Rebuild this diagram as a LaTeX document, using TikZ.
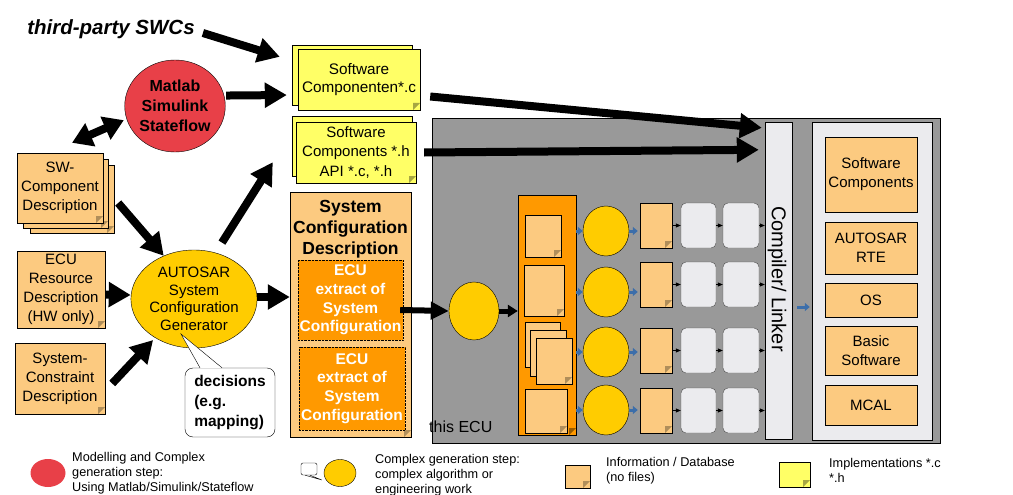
\documentclass[tikz,border=0pt]{standalone}
\usepackage{fontspec}
\setmainfont{Liberation Sans}
\usetikzlibrary{shapes,arrows.meta,positioning,calc}
\usepackage{xcolor}
\definecolor{infoorange}{RGB}{252,202,128}
\definecolor{extractorange}{RGB}{255,153,0}
\definecolor{implyellow}{RGB}{255,255,102}
\definecolor{stepyellow}{RGB}{255,204,0}
\definecolor{matlabred}{RGB}{232,64,72}
\definecolor{ecugray}{RGB}{153,153,153}
\definecolor{panelgray}{RGB}{235,235,238}
\definecolor{flowblue}{RGB}{60,110,170}

\tikzset{
  fold/.style={path picture={\fill[#1] ([xshift=-7pt]path picture bounding box.south east) -- ([yshift=7pt]path picture bounding box.south east) -- ([shift={(-7pt,7pt)}]path picture bounding box.south east) -- cycle;}},
  info/.style={draw, fill=infoorange, align=center, fold=infoorange!70!black},
  impl/.style={draw, fill=implyellow, align=center, fold=implyellow!65!black},
  genstep/.style={ellipse, draw, fill=stepyellow, align=center},
  extract/.style={draw, densely dotted, fill=extractorange, text=white, align=center, font=\bfseries\fontsize{15.5}{18.7}\selectfont},
  swlayer/.style={draw, fill=infoorange, align=center, minimum width=92pt},
  tool/.style={draw=black!70, fill=panelgray, rounded corners=5pt},
  bigarrow/.style={line width=8pt, -{Triangle[length=22pt,width=24pt]}},
  flowarrow/.style={flowblue, line width=3pt, -{Triangle[length=5pt,width=8pt]}},
  thinarrow/.style={line width=0.6pt, -{Triangle[length=5pt,width=4pt]}},
  legendtext/.style={anchor=west, align=left, font=\fontsize{12.7}{15}\selectfont},
}

\begin{document}
\begin{tikzpicture}[x=1pt, y=-1pt, every node/.style={font=\fontsize{15}{19}\selectfont, inner sep=0pt}]
    \useasboundingbox (0,0) rectangle (1013,495);

    % this ECU
    \node[draw, fill=ecugray, minimum width=508pt, minimum height=325pt] (ecu) at (686,280.5) {};
    \node[anchor=west, font=\fontsize{16}{18}\selectfont] (thisecu) at (429,427) {this ECU};

    % Compiler and ECU image
    \node[draw, fill=panelgray, minimum width=27pt, minimum height=317pt] (compiler) at (778.5,280.5) {};
    \node[rotate=-90, font=\fontsize{20}{22}\selectfont] (compilerlabel) at (777,279) {Compiler/ Linker};
    \node[draw, fill=panelgray, minimum width=120pt, minimum height=318pt] (image) at (872,281) {};
    \node[swlayer, minimum height=75pt] (swcomp) at (871,174.5) {Software\\Components};
    \node[swlayer, minimum height=52pt] (rte) at (871,248) {AUTOSAR\\RTE};
    \node[swlayer, minimum height=34pt] (os) at (871,300) {OS};
    \node[swlayer, minimum height=49pt] (bsw) at (871,350.5) {Basic\\Software};
    \node[swlayer, minimum height=40pt] (mcal) at (871,405) {MCAL};
    \draw[flowarrow, shorten <=5pt, shorten >=2pt] ([yshift=-26.5pt]compiler.east) -- ([yshift=-26pt]image.west);

    % ECU extract split
    \node[genstep, minimum width=50pt, minimum height=58pt] (ecustep) at (474,311) {};
    \node[draw, fill=extractorange, minimum width=58pt, minimum height=240pt, fold=extractorange!60!black] (extracts) at (547,315) {};
    \node[info, minimum width=36pt, minimum height=42pt] (noteA) at (543,236) {};
    \node[info, minimum width=40pt, minimum height=51pt] (noteB) at (544,290.5) {};
    \node[info, minimum width=35pt, minimum height=45pt] (noteC) at (542.5,344.5) {};
    \node[info, minimum width=36pt, minimum height=46pt] (noteD) at (548,353) {};
    \node[info, minimum width=36pt, minimum height=46pt] (noteE) at (554,361) {};
    \node[info, minimum width=42pt, minimum height=44pt] (noteF) at (546,411) {};

    % generation rows
    \foreach \cy/\ny [count=\i] in {231/225.5, 292/284.5, 352/350.5, 410/410.5} {
        \node[genstep, minimum width=46pt, minimum height=50pt] (circ\i) at (606,\cy) {};
        \node[info, minimum width=32pt, minimum height=45pt] (cfg\i) at (656,\ny) {};
        \node[tool, minimum width=35pt, minimum height=45pt] (code\i) at (698.5,\ny) {};
        \node[tool, minimum width=36pt, minimum height=45pt] (obj\i) at (741,\ny) {};
        \draw[flowarrow] (extracts.east |- circ\i.west) -- (circ\i.west);
        \draw[flowarrow, shorten >=2pt] (circ\i.east) -- (cfg\i.west |- circ\i.east);
        \draw[thinarrow] (cfg\i.east) -- (code\i.west);
        \draw[thinarrow] (code\i.east) -- (obj\i.west);
        \draw[thinarrow] (obj\i.east) -- (compiler.west |- obj\i.east);
    }

    % Implementations
    \node[impl, minimum width=120pt, minimum height=60pt] (swcCback) at (352,75) {};
    \node[impl, minimum width=122pt, minimum height=61pt, font=\fontsize{15.3}{18.5}\selectfont] (swcC) at (359,79.5) {Software\\Componenten*.c};
    \node[impl, minimum width=120pt, minimum height=60pt] (swcHback) at (352,146) {};
    \node[impl, minimum width=120pt, minimum height=61pt, font=\fontsize{15}{19.5}\selectfont] (swcH) at (356,152.5) {Software\\Components *.h\\API *.c, *.h};

    % System Configuration Description
    \node[info, minimum width=121pt, minimum height=245pt] (syscfg) at (350.5,314.5) {};
    \node[align=center, font=\bfseries\fontsize{17.5}{21}\selectfont] (syscfgtitle) at (350.5,229) {System\\Configuration\\Description};
    \node[extract, minimum width=105pt, minimum height=80pt] (extractA) at (350.5,300) {ECU\\extract of\\System\\Configuration};
    \node[extract, minimum width=106pt, minimum height=83pt] (extractB) at (352,388.5) {ECU\\extract of\\System\\Configuration};

    % Modelling step
    \node[ellipse, draw, fill=matlabred, minimum width=94pt, minimum height=92pt, align=center, font=\bfseries\fontsize{16}{20}\selectfont] (matlab) at (175,106) {Matlab\\Simulink\\Stateflow};
    \node[font=\bfseries\itshape\fontsize{20.5}{22}\selectfont] (thirdparty) at (111,29) {third-party SWCs};

    % Inputs
    \node[info, minimum width=84pt, minimum height=68pt] (swcdescC) at (72,199) {};
    \node[info, minimum width=85pt, minimum height=69pt] (swcdescB) at (65.5,193.5) {};
    \node[info, minimum width=86pt, minimum height=70pt] (swcdesc) at (60,188) {SW-\\Component\\Description};
    \node[info, minimum width=88pt, minimum height=77pt] (ecures) at (61,289.5) {ECU\\Resource\\Description\\(HW only)};
    \node[info, minimum width=90pt, minimum height=71pt] (sysconst) at (60,378.5) {System-\\Constraint\\Description};

    % Generator with decisions
    \node[genstep, minimum width=104pt, minimum height=98pt, font=\fontsize{15}{17.5}\selectfont] (gen) at (194,299) {AUTOSAR\\System\\Configuration\\Generator};
    \node[draw, fill=white, rounded corners=8pt, minimum width=90pt, minimum height=69pt, align=left, font=\bfseries\fontsize{15.5}{20}\selectfont] (decide) at (230,402.5) {decisions\\(e.g.\\mapping)};
    \fill[white] ([shift={(-13,35)}]gen.center) -- ([xshift=-30pt]decide.north) -- ([xshift=-8pt]decide.north) -- cycle;
    \draw ([xshift=-30pt]decide.north) -- ([shift={(-13,35)}]gen.center) -- ([xshift=-8pt]decide.north);

    % Arrows
    \draw[bigarrow] ([shift={(8,4)}]thirdparty.east) -- ([shift={(-12,12)}]swcCback.north west);
    \draw[bigarrow, shorten <=2pt, shorten >=5pt] (matlab.12) -- ([yshift=-20pt]swcCback.west);
    \draw[line width=8pt, {Triangle[length=20pt,width=24pt]}-{Triangle[length=20pt,width=24pt]}, shorten <=3pt] (matlab.195) -- ([shift={(12,-10)}]swcdesc.north);
    \draw[bigarrow] ([shift={(4,4)}]swcdescC.east) -- (gen.125);
    \draw[bigarrow] ([yshift=-5pt]ecures.east) -- ([yshift=4pt]gen.west);
    \draw[bigarrow, shorten >=3pt] ([shift={(7,5)}]sysconst.east) -- (gen.225);
    \draw[bigarrow] ([yshift=2pt]gen.east) -- ([yshift=17.5pt]syscfg.west);
    \draw[bigarrow, shorten <=12pt] (gen.65) -- ([shift={(-19,-14)}]swcHback.south west);
    \draw[bigarrow] ([shift={(10,17)}]swcC.east) -- ([shift={(-3,6)}]compiler.north west);
    \draw[bigarrow] ([xshift=8pt]swcH.east) -- ([shift={(-6,28)}]compiler.north west);
    \draw[line width=6pt, -{Triangle[length=18pt,width=17pt]}] ([shift={(-3,10)}]extractA.east) -- (ecustep.west);
    \draw[line width=5pt, -{Triangle[length=10pt,width=12pt]}] (ecustep.east) -- ([yshift=4pt]extracts.west);

    % Legend
    \node[ellipse, fill=matlabred, minimum width=35pt, minimum height=28pt] (legmatlab) at (48,473) {};
    \node[legendtext] (legmatlabtext) at (72,473) {Modelling and Complex\\generation step:\\Using Matlab/Simulink/Stateflow};
    \node[genstep, minimum width=32pt, minimum height=27pt] (legstep) at (340,473) {};
    \node[draw, fill=white, rounded corners=2pt, minimum width=16pt, minimum height=12pt] (legcall) at (309,469) {};
    \draw ([xshift=-4pt]legcall.south) -- ([shift={(-2,7)}]legstep.west) -- ([xshift=1pt]legcall.south);
    \node[legendtext] (legsteptext) at (375,475) {Complex generation step:\\complex algorithm or\\engineering work};
    \node[info, minimum width=25pt, minimum height=23pt] (leginfo) at (577.5,476.5) {};
    \node[legendtext] (leginfotext) at (606,470.5) {Information / Database\\(no files)};
    \node[impl, minimum width=31pt, minimum height=25pt] (legimpl) at (794.5,474.5) {};
    \node[legendtext] (legimpltext) at (829,470.5) {Implementations *.c\\*.h};
\end{tikzpicture}
\end{document}
